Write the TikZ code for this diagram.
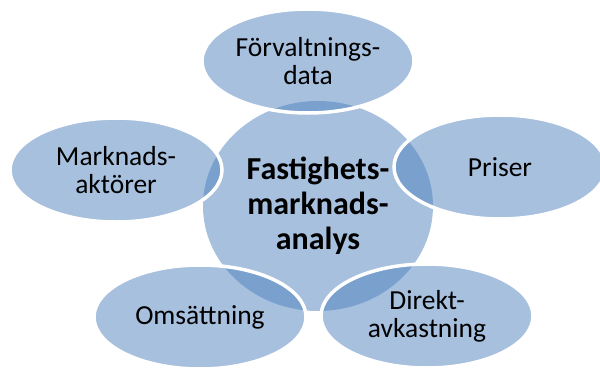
\documentclass[tikz,border=0pt]{standalone}
\usepackage{fontspec}
\setmainfont{Carlito}
\usetikzlibrary{shapes.geometric}
\definecolor{accent}{HTML}{4F81BD}
\begin{document}
\begin{tikzpicture}[x=1pt,y=-1pt,
  blob/.style={ellipse, fill=accent, fill opacity=0.5, text opacity=1, inner sep=0pt, align=center, font=\fontsize{27.5}{28}\selectfont},
  outer/.style={blob, draw=white, draw opacity=1, line width=3.5pt, minimum width=212pt, minimum height=104pt},
  hub/.style={blob, minimum width=230pt, minimum height=210pt, font=\bfseries\fontsize{32}{35}\selectfont}]
\useasboundingbox (0,0) rectangle (600,367);
\clip (0,0) rectangle (600,367);
\node[hub] (hub) at (318,206) {Fastighets-\\marknads-\\analys};
\node[outer] (forv) at (308,61) {Förvaltnings-\\data};
\node[outer] (akt) at (116,170) {Marknads-\\aktörer};
\node[outer] (pris) at (500,167) {Priser};
\node[outer] (oms) at (200,317) {Omsättning};
\node[outer] (dir) at (427,316) {Direkt-\\avkastning};
\end{tikzpicture}
\end{document}
